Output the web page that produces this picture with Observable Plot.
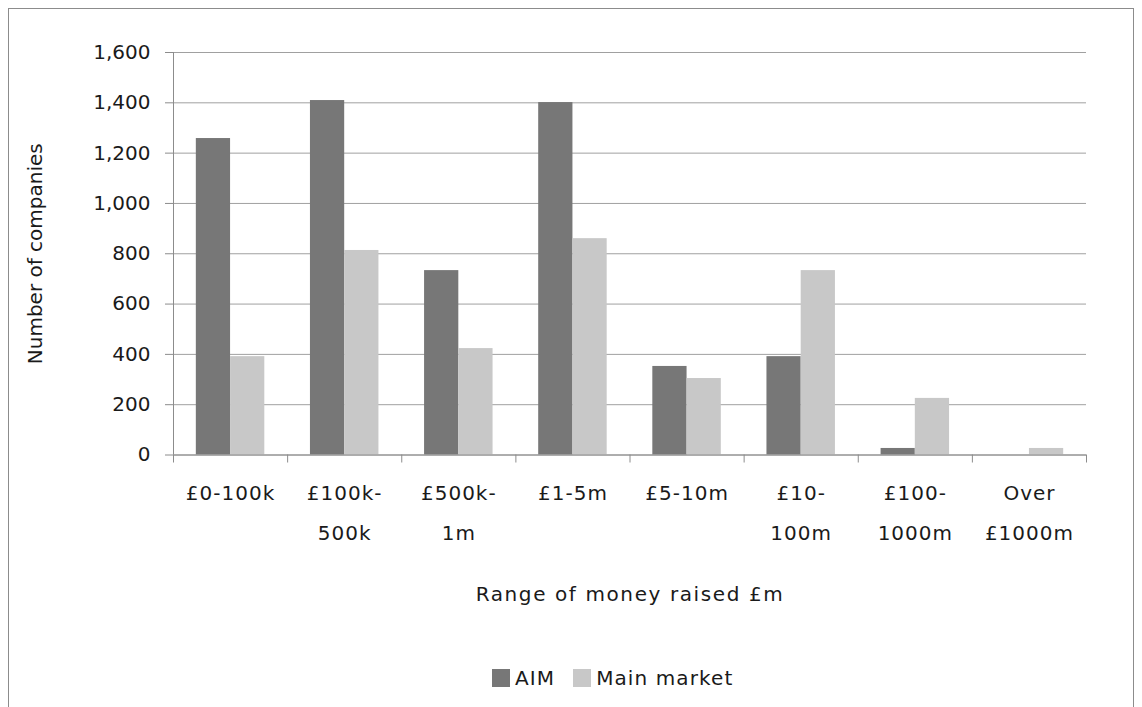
<!DOCTYPE html>
<html><head><meta charset="utf-8">
<script src="https://cdn.jsdelivr.net/npm/d3@7"></script>
<script src="https://cdn.jsdelivr.net/npm/@observablehq/plot@0.6"></script>
<style>
body{margin:0;background:#fff;font-family:"DejaVu Sans",sans-serif;}
#frame{position:absolute;left:8px;top:8px;width:1126px;height:720px;border:1px solid #8c8c8c;box-sizing:border-box;}
#chart{position:absolute;left:0;top:0;}
#legend{position:absolute;left:492px;top:666px;display:flex;align-items:center;font-size:20px;color:#1a1a1a;letter-spacing:1.1px;}
.sw{display:inline-block;width:18px;height:18px;margin-right:5px;}
.item{display:flex;align-items:center;margin-right:18px;}
#chart g[aria-label="text"] text{letter-spacing:1px;}
#chart g[aria-label="x-axis label"] text{letter-spacing:1.6px;}
</style></head><body>
<div id="frame"></div><div id="chart"></div><div id="legend"></div>
<script>
const categories = ["£0-100k","£100k-500k","£500k-1m","£1-5m","£5-10m","£10-100m","£100-1000m","Over £1000m"];
const tickLabels = ["£0-100k","£100k-\n500k","£500k-\n1m","£1-5m","£5-10m","£10-\n100m","£100-\n1000m","Over\n£1000m"];
const seriesNames = ["AIM","Main market"];
const aim = [1258,1409,733,1401,352,391,26,0];
const mainMarket = [391,813,423,860,304,733,225,26];
const yTicks = [0,200,400,600,800,1000,1200,1400,1600];
const colors = ["#777777","#c8c8c8"];

const rows = categories.flatMap((c,i)=>[
  {category:c, i, series:seriesNames[0], value:aim[i]},
  {category:c, i, series:seriesNames[1], value:mainMarket[i]}
]);
const off = {[seriesNames[0]]:[0.2,0.5],[seriesNames[1]]:[0.5,0.8]};
const axisStroke = "#8c8c8c";
const font = "'DejaVu Sans', sans-serif";

const plot = Plot.plot({
  width:1142, height:620,
  marginTop:52, marginLeft:173, marginRight:56, marginBottom:165.5,
  style:{fontFamily:font, fontSize:"20px", color:"#1a1a1a", background:"transparent"},
  x:{domain:[0,categories.length]},
  y:{domain:[0,d3.max(yTicks)]},
  color:{domain:seriesNames, range:colors},
  marks:[
    Plot.gridY(yTicks,{stroke:"#a0a0a0", strokeOpacity:1}),
    Plot.rectY(rows,{x1:d=>d.i+off[d.series][0], x2:d=>d.i+off[d.series][1], y1:()=>0, y2:"value", fill:"series"}),
    Plot.axisY({ticks:yTicks, tickFormat:d3.format(","), tickSize:8, tickPadding:15, stroke:axisStroke, label:"Number of companies", labelAnchor:"center", labelOffset:146, labelArrow:"none"}),
    Plot.axisX({ticks:d3.range(categories.length+1), tickFormat:()=>"", tickSize:8, stroke:axisStroke, label:"Range of money raised £m", labelAnchor:"center", labelOffset:146, labelArrow:"none"}),
    Plot.ruleX([0],{y1:()=>0, y2:()=>d3.max(yTicks), stroke:axisStroke}),
    Plot.ruleY([0],{stroke:axisStroke}),
    Plot.text(categories,{x:(d,i)=>i+0.5, y:()=>0, text:(d,i)=>tickLabels[i], lineAnchor:"top", dy:17, lineHeight:2, fill:"#1a1a1a"})
  ]
});
document.getElementById("chart").appendChild(plot);

const lg = document.getElementById("legend");
seriesNames.forEach((s,k)=>{
  const it = document.createElement("span"); it.className="item";
  const sw = document.createElement("span"); sw.className="sw"; sw.style.background=colors[k];
  it.appendChild(sw); it.appendChild(document.createTextNode(s));
  lg.appendChild(it);
});
</script>
</body></html>
